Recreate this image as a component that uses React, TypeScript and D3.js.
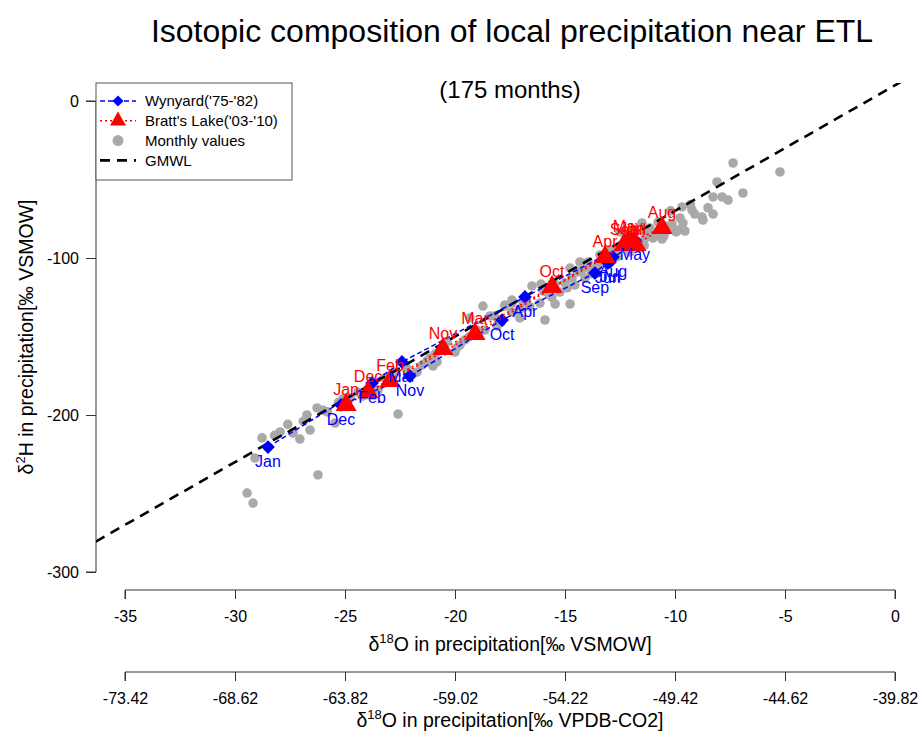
import React, { useEffect, useRef } from 'react';
import * as d3 from 'd3';

const MONTHS = ['Jan', 'Feb', 'Mar', 'Apr', 'May', 'Jun', 'Jul', 'Aug', 'Sep', 'Oct', 'Nov', 'Dec'];

// Wynyard ('75-'82) monthly means, d18O / d2H
const WYN_O = [-28.5, -23.77, -22.41, -16.82, -11.82, -13.05, -12.95, -12.82, -13.64, -17.86, -22.05, -25.18];
const WYN_H = [-220.4, -179.6, -166.2, -124.8, -88.5, -103.2, -102.5, -99.4, -109.6, -139.5, -175.2, -193.6];

// Bratt's Lake ('03-'10) monthly means
const BRA_O = [-24.95, -22.95, -19.09, -13.18, -12.14, -11.95, -11.77, -10.59, -12.32, -15.59, -20.55, -23.95];
const BRA_H = [-193.6, -178.3, -148.4, -99.4, -89.8, -91.1, -91.7, -80.9, -91.7, -118.5, -158.0, -185.4];

// monthly values (grey points)
const MON_O = [
  -29.45, -29.18, -26.23, -29.09, -28.77, -27.95, -27.36, -27.05, -26.59, -26.73, -26.27, -25.45,
  -24.77, -24.41, -22.59, -23.5, -23.18, -22.73, -21.73, -21.5, -21.14, -20.82, -20.36, -20.0,
  -19.77, -19.55, -19.32, -18.64, -18.41, -18.09, -17.73, -17.41, -17.05, -16.14, -15.91, -16.91,
  -15.77, -15.45, -14.77, -15.23, -15.0, -14.68, -14.41, -14.09, -13.86, -13.5, -14.32, -13.95,
  -13.41, -12.73, -12.5, -12.23, -11.5, -11.14, -11.0, -10.59, -11.59, -11.36, -10.32, -9.86,
  -9.55, -9.77, -9.64, -9.68, -9.23, -8.77, -8.73, -8.27, -8.27, -7.86, -7.59, -6.91,
  -8.09, -7.36, -5.23, -25.09, -23.91, -21.0, -21.27, -18.73, -17.41, -16.5, -17.05, -16.09,
  -19.36, -16.82, -16.0, -17.73, -17.41, -15.45, -14.77, -14.0, -13.55, -14.55, -13.18, -12.95,
  -12.36, -12.82, -11.82, -11.27, -10.82, -10.45, -10.14, -9.95, -10.77, -11.68, -12.05, -24.2,
  -25.8, -22.2, -20.5, -19.0, -18.2, -14.2, -13.0, -11.9, -10.2, -9.3, -28.2, -27.6,
  -26.9, -26.0, -25.3, -24.0, -22.0, -20.9, -19.9, -18.9, -17.9, -16.6, -15.6, -14.9,
  -13.8, -12.6, -11.4, -10.5, -9.1, -8.5,
];
const MON_H = [
  -249.7, -256.1, -238.2, -227.4, -214.6, -210.8, -211.5, -215.3, -209.6, -200.0, -195.5, -205.1,
  -189.2, -185.4, -199.4, -184.1, -176.4, -172.6, -172.6, -168.2, -163.7, -166.2, -153.5, -159.9,
  -155.4, -152.2, -138.2, -145.9, -136.9, -143.3, -130.6, -126.8, -138.2, -128.7, -139.5, -128.7,
  -122.3, -129.3, -129.3, -121.7, -115.9, -112.7, -108.9, -112.7, -106.4, -105.1, -102.5, -102.5,
  -98.1, -94.9, -83.4, -85.4, -77.7, -80.9, -87.3, -87.9, -93.6, -87.3, -82.2, -82.2,
  -82.8, -74.5, -77.7, -67.5, -69.4, -73.9, -75.8, -72.0, -61.1, -61.1, -63.1, -58.6,
  -51.6, -39.5, -45.2, -189.8, -184.7, -168.8, -165.6, -130.6, -128.7, -117.8, -132.5, -116.6,
  -150.3, -128.0, -121.0, -129.9, -134.4, -116.6, -106.4, -105.1, -109.6, -117.2, -100.6, -94.9,
  -91.1, -95.5, -88.5, -84.7, -85.4, -79.6, -78.3, -83.4, -77.1, -91.1, -96.2, -188.0,
  -198.0, -170.0, -156.0, -146.0, -137.0, -107.0, -100.0, -92.0, -70.0, -66.0, -213.0, -206.0,
  -204.0, -197.0, -192.0, -187.0, -174.0, -161.0, -157.0, -148.0, -141.0, -131.0, -125.0, -119.0,
  -110.0, -99.0, -92.0, -86.0, -72.0, -68.0,
];

const Y_TICKS = [0, -100, -200, -300];
const X_TICKS = [-35, -30, -25, -20, -15, -10, -5, 0];
const X2_TICKS = [-73.42, -68.62, -63.82, -59.02, -54.22, -49.42, -44.62, -39.82];

const FONT = '"Liberation Sans", Arial, Helvetica, sans-serif';

const App = () => {
  const ref = useRef<SVGSVGElement>(null);

  useEffect(() => {
    document.body.style.margin = '0';
    document.body.style.overflow = 'hidden';

    const svg = d3.select(ref.current);
    svg.selectAll('*').remove();
    svg.style('font-family', FONT);

    const plot = { left: 96, top: 83, right: 920, bottom: 585 };

    const x = d3.scaleLinear().domain([-35, 0]).range([125, 895]);
    const y = d3.scaleLinear().domain([-300, 0]).range([572, 101]);
    const x2 = d3.scaleLinear().domain([-73.42, -39.82]).range([125, 895]);

    svg.append('clipPath').attr('id', 'plotclip')
      .append('rect')
      .attr('x', plot.left).attr('y', plot.top)
      .attr('width', plot.right - plot.left).attr('height', plot.bottom - plot.top);

    // titles
    svg.append('text').attr('x', 512).attr('y', 42).attr('text-anchor', 'middle')
      .style('font-size', '32px').text('Isotopic composition of local precipitation near ETL');
    svg.append('text').attr('x', 510).attr('y', 98).attr('text-anchor', 'middle')
      .style('font-size', '24px').text('(175 months)');

    // y axis
    const yAxis = d3.axisLeft(y).tickValues(Y_TICKS).tickSize(10).tickFormat(d => String(d));
    const gy = svg.append('g').attr('transform', `translate(${plot.left},0)`).call(yAxis);
    gy.select('.domain').attr('d', `M-10,${y(0)}H0V${y(-300)}H-10`).attr('stroke', '#333');
    gy.selectAll('line').attr('stroke', '#333');
    gy.selectAll('text').style('font-size', '16px').style('font-family', FONT).attr('fill', '#000').attr('x', -17);
    gy.selectAll('.tick text').attr('dy', '0.35em');

    const yl = svg.append('text').attr('transform', 'translate(33,337) rotate(-90)')
      .attr('text-anchor', 'middle').style('font-size', '19.5px');
    yl.append('tspan').text('δ');
    yl.append('tspan').attr('dy', -8).style('font-size', '13px').text('2');
    yl.append('tspan').attr('dy', 8).text('H in precipitation[‰ VSMOW]');

    // x axes
    const drawX = (scale, ticks, yPos, fmt, title, titleOff) => {
      const ax = d3.axisBottom(scale).tickValues(ticks).tickSize(9).tickFormat(fmt);
      const g = svg.append('g').attr('transform', `translate(0,${yPos})`).call(ax);
      g.select('.domain').attr('d', `M125,9V0H895V9`).attr('stroke', '#333');
      g.selectAll('line').attr('stroke', '#333');
      g.selectAll('text').style('font-size', '16px').style('font-family', FONT)
        .attr('fill', '#000').attr('y', 32).attr('dy', '0');
      const t = svg.append('text').attr('x', 510).attr('y', yPos + titleOff).attr('text-anchor', 'middle')
        .style('font-size', '19.5px');
      t.append('tspan').text('δ');
      t.append('tspan').attr('dy', -8).style('font-size', '13px').text('18');
      t.append('tspan').attr('dy', 8).text(title);
    };
    drawX(x, X_TICKS, 590, d => String(d), 'O in precipitation[‰ VSMOW]', 61);
    drawX(x2, X2_TICKS, 672, d => d.toFixed(2), 'O in precipitation[‰ VPDB-CO2]', 55);

    const clip = svg.append('g').attr('clip-path', 'url(#plotclip)');

    // monthly grey points
    const mon = MON_O.map((o, i) => ({ o, h: MON_H[i] }));
    clip.selectAll('circle.mon').data(mon).enter().append('circle')
      .attr('class', 'mon')
      .attr('cx', d => x(d.o)).attr('cy', d => y(d.h)).attr('r', 4.8)
      .attr('fill', '#a9a9a9');

    // GMWL d2H = 8 d18O + 10
    const gx = [-37, 2];
    clip.append('path')
      .attr('d', d3.line<number>().x(d => x(d)).y(d => y(8 * d + 10))(gx))
      .attr('fill', 'none').attr('stroke', '#000').attr('stroke-width', 2.6)
      .attr('stroke-dasharray', '10,7');

    const wyn = MONTHS.map((m, i) => ({ m, o: WYN_O[i], h: WYN_H[i] }));
    const bra = MONTHS.map((m, i) => ({ m, o: BRA_O[i], h: BRA_H[i] }));
    const line = d3.line<{ o: number; h: number }>().x(d => x(d.o)).y(d => y(d.h));

    // Wynyard
    clip.append('path').attr('d', line(wyn)).attr('fill', 'none').attr('stroke', '#0000ff')
      .attr('stroke-width', 1.5).attr('stroke-dasharray', '5,3');
    clip.selectAll('path.dia').data(wyn).enter().append('path')
      .attr('class', 'dia')
      .attr('d', d3.symbol().type(d3.symbolDiamond2).size(120)())
      .attr('transform', d => `translate(${x(d.o)},${y(d.h)})`)
      .attr('fill', '#0000ff');

    // Bratt's Lake
    clip.append('path').attr('d', line(bra)).attr('fill', 'none').attr('stroke', '#ff0000')
      .attr('stroke-width', 1.5).attr('stroke-dasharray', '2,3');
    clip.selectAll('path.tri').data(bra).enter().append('path')
      .attr('class', 'tri')
      .attr('d', d3.symbol().type(d3.symbolTriangle).size(190)())
      .attr('transform', d => `translate(${x(d.o)},${y(d.h)})`)
      .attr('fill', '#ff0000');

    // labels
    clip.selectAll('text.wl').data(wyn).enter().append('text')
      .attr('class', 'wl')
      .attr('x', d => x(d.o)).attr('y', d => y(d.h) + 20)
      .attr('text-anchor', 'middle').style('font-size', '16px').attr('fill', '#0000ff')
      .text(d => d.m);
    clip.selectAll('text.bl').data(bra).enter().append('text')
      .attr('class', 'bl')
      .attr('x', d => x(d.o)).attr('y', d => y(d.h) - 10)
      .attr('text-anchor', 'middle').style('font-size', '16px').attr('fill', '#ff0000')
      .text(d => d.m);

    // legend
    const lg = svg.append('g');
    lg.append('rect').attr('x', 96).attr('y', 83).attr('width', 196).attr('height', 97)
      .attr('fill', '#fff').attr('stroke', '#555').attr('stroke-width', 1);
    const items = [
      { label: "Wynyard('75-'82)", color: '#0000ff', dash: '5,3', sym: 'dia' },
      { label: "Bratt's Lake('03-'10)", color: '#ff0000', dash: '2,3', sym: 'tri' },
      { label: 'Monthly values', color: '#a9a9a9', dash: null, sym: 'dot' },
      { label: 'GMWL', color: '#000', dash: '10,7', sym: null },
    ];
    items.forEach((it, i) => {
      const yy = 101 + i * 19.8;
      if (it.dash) {
        lg.append('line').attr('x1', 100).attr('x2', 136).attr('y1', yy).attr('y2', yy)
          .attr('stroke', it.color).attr('stroke-width', it.sym ? 1.5 : 2.6)
          .attr('stroke-dasharray', it.dash);
      }
      if (it.sym === 'dia') {
        lg.append('path').attr('d', d3.symbol().type(d3.symbolDiamond2).size(80)())
          .attr('transform', `translate(118,${yy})`).attr('fill', it.color);
      } else if (it.sym === 'tri') {
        lg.append('path').attr('d', d3.symbol().type(d3.symbolTriangle).size(110)())
          .attr('transform', `translate(118,${yy})`).attr('fill', it.color);
      } else if (it.sym === 'dot') {
        lg.append('circle').attr('cx', 118).attr('cy', yy).attr('r', 5.5).attr('fill', it.color);
      }
      lg.append('text').attr('x', 145).attr('y', yy).attr('dy', '0.35em')
        .style('font-size', '15px').text(it.label);
    });
  }, []);

  return <svg ref={ref} width={920} height={734} style={{ display: 'block' }} />;
};

export default App;
